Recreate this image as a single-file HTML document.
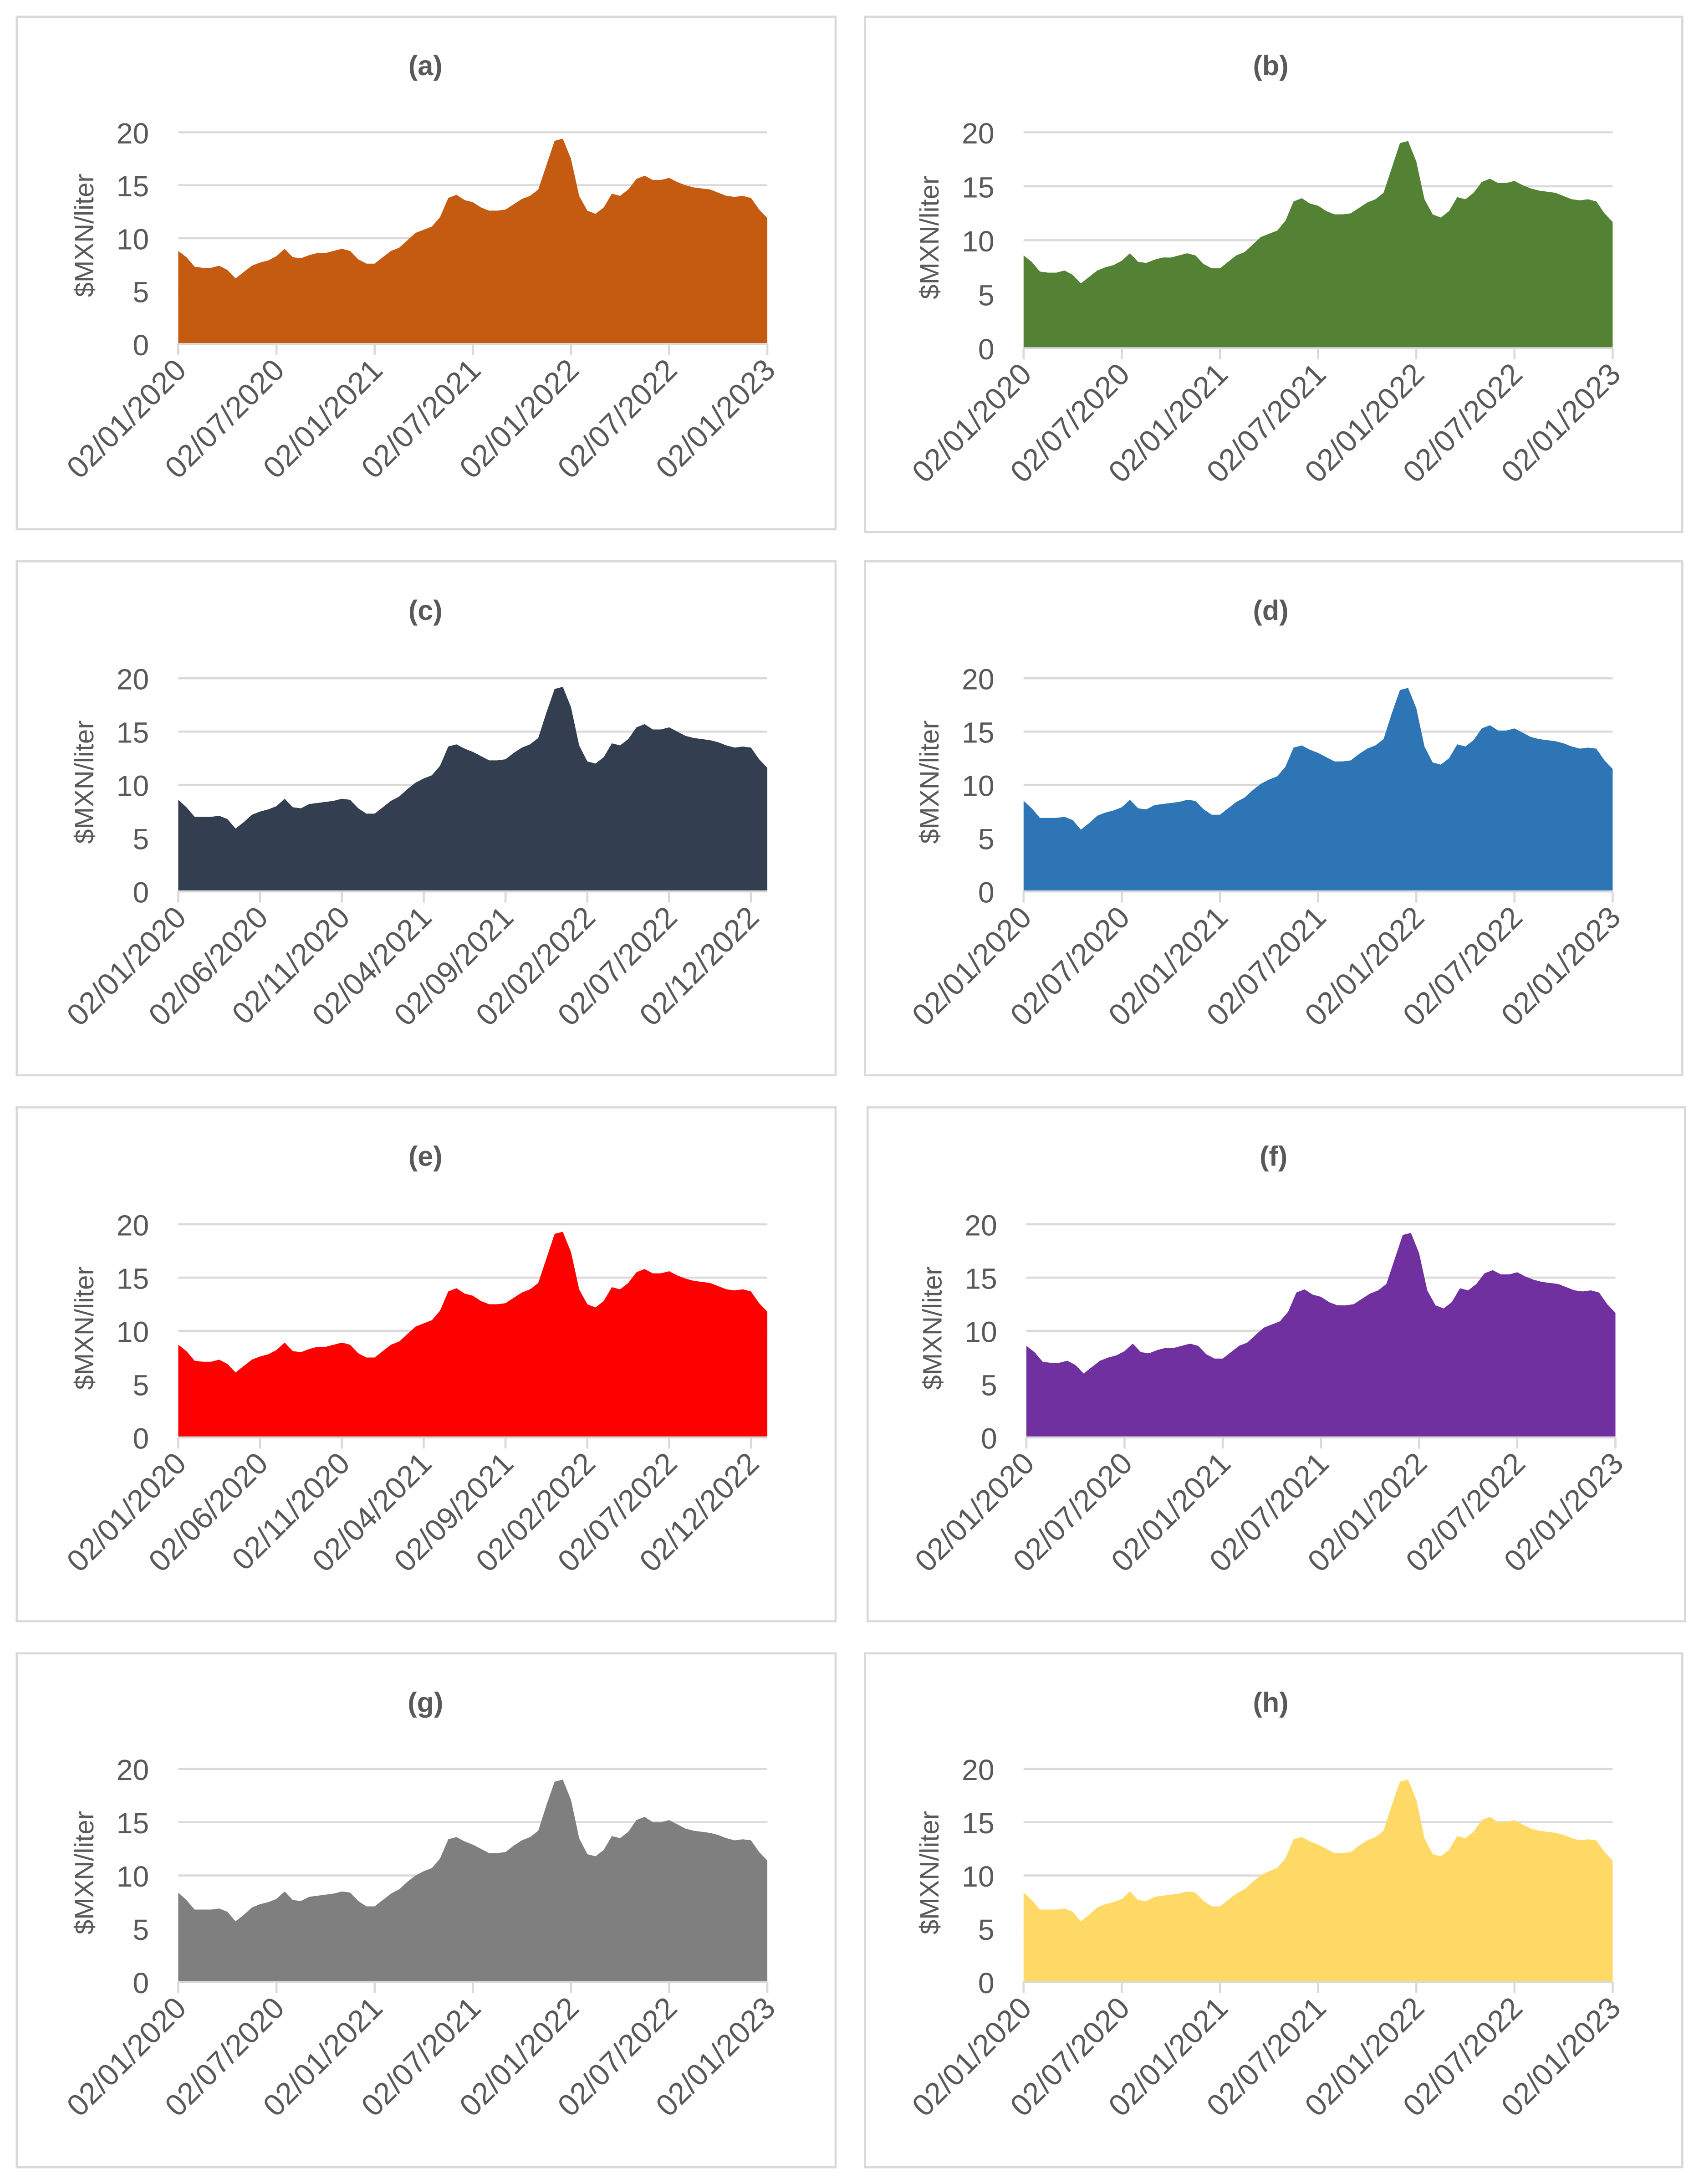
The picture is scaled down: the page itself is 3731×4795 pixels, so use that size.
<!DOCTYPE html>
<html><head><meta charset="utf-8"><style>
html,body{margin:0;padding:0;background:#fff;}
svg{display:block;}
text{font-family:"Liberation Sans",sans-serif;fill:#595959;}
</style></head><body>
<svg id="fig" width="3731" height="4795" viewBox="0 0 1220 1568" preserveAspectRatio="none" xmlns="http://www.w3.org/2000/svg"></svg>
<script>
// half-monthly price series, Jan 2020 .. Jan 2023 ($MXN/liter)
const months = 36;
const priceA = [8.8,8.2,7.3,7.2,7.2,7.4,7.0,6.2,6.8,7.4,7.7,7.9,8.3,9.0,8.2,8.1,8.4,8.6,8.6,8.8,9.0,8.8,8.0,7.6,7.6,8.2,8.8,9.1,9.8,10.5,10.8,11.1,12.0,13.8,14.1,13.6,13.4,12.9,12.6,12.6,12.7,13.2,13.7,14.0,14.6,16.9,19.2,19.4,17.5,14.0,12.6,12.3,12.9,14.2,14.0,14.6,15.6,15.9,15.5,15.5,15.7,15.3,15.0,14.8,14.7,14.6,14.3,14.0,13.9,14.0,13.8,12.7,11.9];
const priceB = [8.6,8.0,7.1,7.0,7.0,7.2,6.8,6.0,6.6,7.2,7.5,7.7,8.1,8.8,8.0,7.9,8.2,8.4,8.4,8.6,8.8,8.6,7.8,7.4,7.4,8.0,8.6,8.9,9.6,10.3,10.6,10.9,11.8,13.6,13.9,13.4,13.2,12.7,12.4,12.4,12.5,13.0,13.5,13.8,14.4,16.7,19.0,19.2,17.3,13.8,12.4,12.1,12.7,14.0,13.8,14.4,15.4,15.7,15.3,15.3,15.5,15.1,14.8,14.6,14.5,14.4,14.1,13.8,13.7,13.8,13.6,12.5,11.7];
const priceC = [8.6,7.9,7.0,7.0,7.0,7.1,6.8,5.9,6.5,7.2,7.5,7.7,8.0,8.7,7.9,7.8,8.2,8.3,8.4,8.5,8.7,8.6,7.8,7.3,7.3,7.9,8.5,8.9,9.6,10.2,10.6,10.9,11.8,13.6,13.8,13.4,13.1,12.7,12.3,12.3,12.4,13.0,13.5,13.8,14.4,16.8,19.0,19.2,17.3,13.7,12.2,12.0,12.6,13.9,13.7,14.3,15.4,15.7,15.2,15.2,15.4,15.0,14.6,14.4,14.3,14.2,14.0,13.7,13.5,13.6,13.5,12.4,11.6];
const priceD = [8.5,7.8,6.9,6.9,6.9,7.0,6.7,5.8,6.4,7.1,7.4,7.6,7.9,8.6,7.8,7.7,8.1,8.2,8.3,8.4,8.6,8.5,7.7,7.2,7.2,7.8,8.4,8.8,9.5,10.1,10.5,10.8,11.7,13.5,13.7,13.3,13.0,12.6,12.2,12.2,12.3,12.9,13.4,13.7,14.3,16.7,18.9,19.1,17.2,13.6,12.1,11.9,12.5,13.8,13.6,14.2,15.3,15.6,15.1,15.1,15.3,14.9,14.5,14.3,14.2,14.1,13.9,13.6,13.4,13.5,13.4,12.3,11.5];
const priceE = [8.7,8.1,7.2,7.1,7.1,7.3,6.9,6.1,6.7,7.3,7.6,7.8,8.2,8.9,8.1,8.0,8.3,8.5,8.5,8.7,8.9,8.7,7.9,7.5,7.5,8.1,8.7,9.0,9.7,10.4,10.7,11.0,11.9,13.7,14.0,13.5,13.3,12.8,12.5,12.5,12.6,13.1,13.6,13.9,14.5,16.8,19.1,19.3,17.4,13.9,12.5,12.2,12.8,14.1,13.9,14.5,15.5,15.8,15.4,15.4,15.6,15.2,14.9,14.7,14.6,14.5,14.2,13.9,13.8,13.9,13.7,12.6,11.8];
const priceG = [8.4,7.7,6.8,6.8,6.8,6.9,6.6,5.7,6.3,7.0,7.3,7.5,7.8,8.5,7.7,7.6,8.0,8.1,8.2,8.3,8.5,8.4,7.6,7.1,7.1,7.7,8.3,8.7,9.4,10.0,10.4,10.7,11.6,13.4,13.6,13.2,12.9,12.5,12.1,12.1,12.2,12.8,13.3,13.6,14.2,16.6,18.8,19.0,17.1,13.5,12.0,11.8,12.4,13.7,13.5,14.1,15.2,15.5,15.0,15.0,15.2,14.8,14.4,14.2,14.1,14.0,13.8,13.5,13.3,13.4,13.3,12.2,11.4];
const yTicks = [0,5,10,15,20];
const labelsSix = ["02/01/2020","02/07/2020","02/01/2021","02/07/2021","02/01/2022","02/07/2022","02/01/2023"];
const tickMonthsSix = [0,6,12,18,24,30,36];
const labelsFive = ["02/01/2020","02/06/2020","02/11/2020","02/04/2021","02/09/2021","02/02/2022","02/07/2022","02/12/2022"];
const tickMonthsFive = [0,5,10,15,20,25,30,35];
const panelTitles = ["(a)","(b)","(c)","(d)","(e)","(f)","(g)","(h)"];
const panelColors = ["#C55A11","#548235","#333F50","#2E75B6","#FF0000","#7030A0","#7F7F7F","#FFD966"];
const panelSeries = [priceA,priceB,priceC,priceD,priceE,priceB,priceG,priceG];

const NS="http://www.w3.org/2000/svg";
const svg=document.getElementById('fig');
function mk(tag,attrs,parent){const e=document.createElementNS(NS,tag);for(const k in attrs)e.setAttribute(k,attrs[k]);parent.appendChild(e);return e;}

const layout=[
 [12,12,588,368,128,551,95,247],
 [621,12,587,370,735,1158,95,250],
 [12,403,588,369,128,551,487,640],
 [621,403,587,369,735,1158,487,640],
 [12,795,588,369,128,551,879,1032],
 [623,795,587,369,737,1160,879,1032],
 [12,1187,588,369,128,551,1270,1423],
 [621,1187,587,369,735,1158,1270,1423]
];

layout.forEach((L,i)=>{
  const [bx,by,bw,bh,x0,x1,yt,yb]=L;
  const g=mk('g',{},svg);
  
  
  const box=mk('rect',{x:bx,y:by,width:bw,height:bh,fill:'#fff',stroke:'#D9D9D9','stroke-width':1.5},g);
  
  
  const xs=m=>x0+(x1-x0)*m/months;
  const ys=v=>yb-(yb-yt)*v/20;
  const t=mk('text',{x:(x0+x1)/2-34,y:by+42,'font-size':20,'font-weight':'bold','text-anchor':'middle'},g);
  t.textContent=panelTitles[i];
  
  
  yTicks.forEach(v=>{
    const ln=mk('line',{x1:x0,x2:x1,y1:ys(v),y2:ys(v),stroke:'#D9D9D9','stroke-width':1.5},g);
    
    
    const tl=mk('text',{x:x0-21,y:ys(v)+8,'font-size':21,'text-anchor':'end'},g);
    tl.textContent=v;
    
    
  });
  const s=panelSeries[i];
  let d='M'+xs(0)+','+ys(0);
  s.forEach((v,k)=>{d+=' L'+xs(k*months/(s.length-1)).toFixed(2)+','+ys(v).toFixed(2);});
  d+=' L'+xs(months)+','+ys(0)+' Z';
  const area=mk('path',{d:d,fill:panelColors[i]},g);
  
  
  const ax=mk('line',{x1:x0,x2:x1,y1:yb,y2:yb,stroke:'#D9D9D9','stroke-width':1.5},g);
  
  
  const five=(i===2||i===4);
  const labs=five?labelsFive:labelsSix, tms=five?tickMonthsFive:tickMonthsSix;
  tms.forEach((m,k)=>{
    const tx=xs(m);
    const tk=mk('line',{x1:tx,x2:tx,y1:yb,y2:yb+8,stroke:'#D9D9D9','stroke-width':1.5},g);
    
    
    const tl=mk('text',{x:0,y:0,'font-size':22,'text-anchor':'end',transform:'translate('+(tx+7)+','+(yb+20)+') rotate(-45)'},g);
    tl.textContent=labs[k];
    
    
  });
  const yl=mk('text',{x:0,y:0,'font-size':19,'text-anchor':'middle',transform:'translate('+(x0-61)+','+((yt+yb)/2-2)+') rotate(-90)'},g);
  yl.textContent='$MXN/liter';
  
  
});
</script>
</body></html>
